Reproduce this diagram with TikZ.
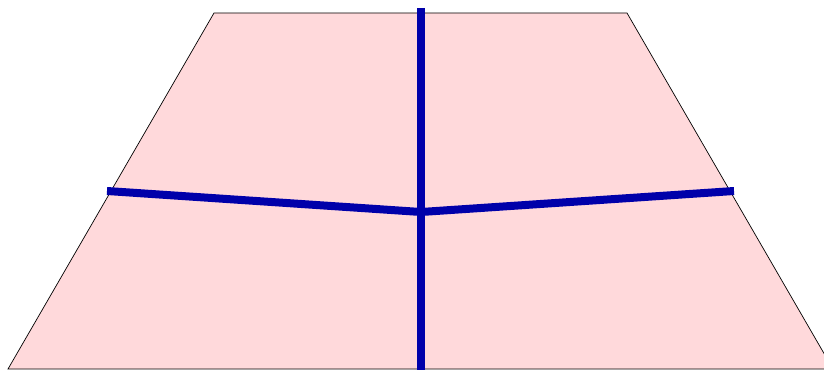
\documentclass[tikz,border=0pt]{standalone}
\usetikzlibrary{calc}
\definecolor{plate}{RGB}{255,217,219}
\definecolor{ridge}{RGB}{0,0,170}

\begin{document}
\begin{tikzpicture}[x=0.03cm, y=-0.03cm,
    ridgeline/.style={draw=ridge, line width=0.24cm}]

\useasboundingbox (0,0) rectangle (824,370);

% Trapezoid region
\filldraw[fill=plate, draw=black, line width=0.6pt]
    (8,369) -- (214,13) -- (627,13) -- (833,369) -- cycle;

% Points of the ridges
\coordinate (top) at (421,8);
\coordinate (bottom) at (421,372);
\coordinate (joint) at (421,212);
\coordinate (west) at (107,191);
\coordinate (east) at (734,191);

% Ridges
\draw[ridgeline] (top) -- (bottom);
\draw[ridgeline] (west) -- (joint) -- (east);

\end{tikzpicture}
\end{document}
